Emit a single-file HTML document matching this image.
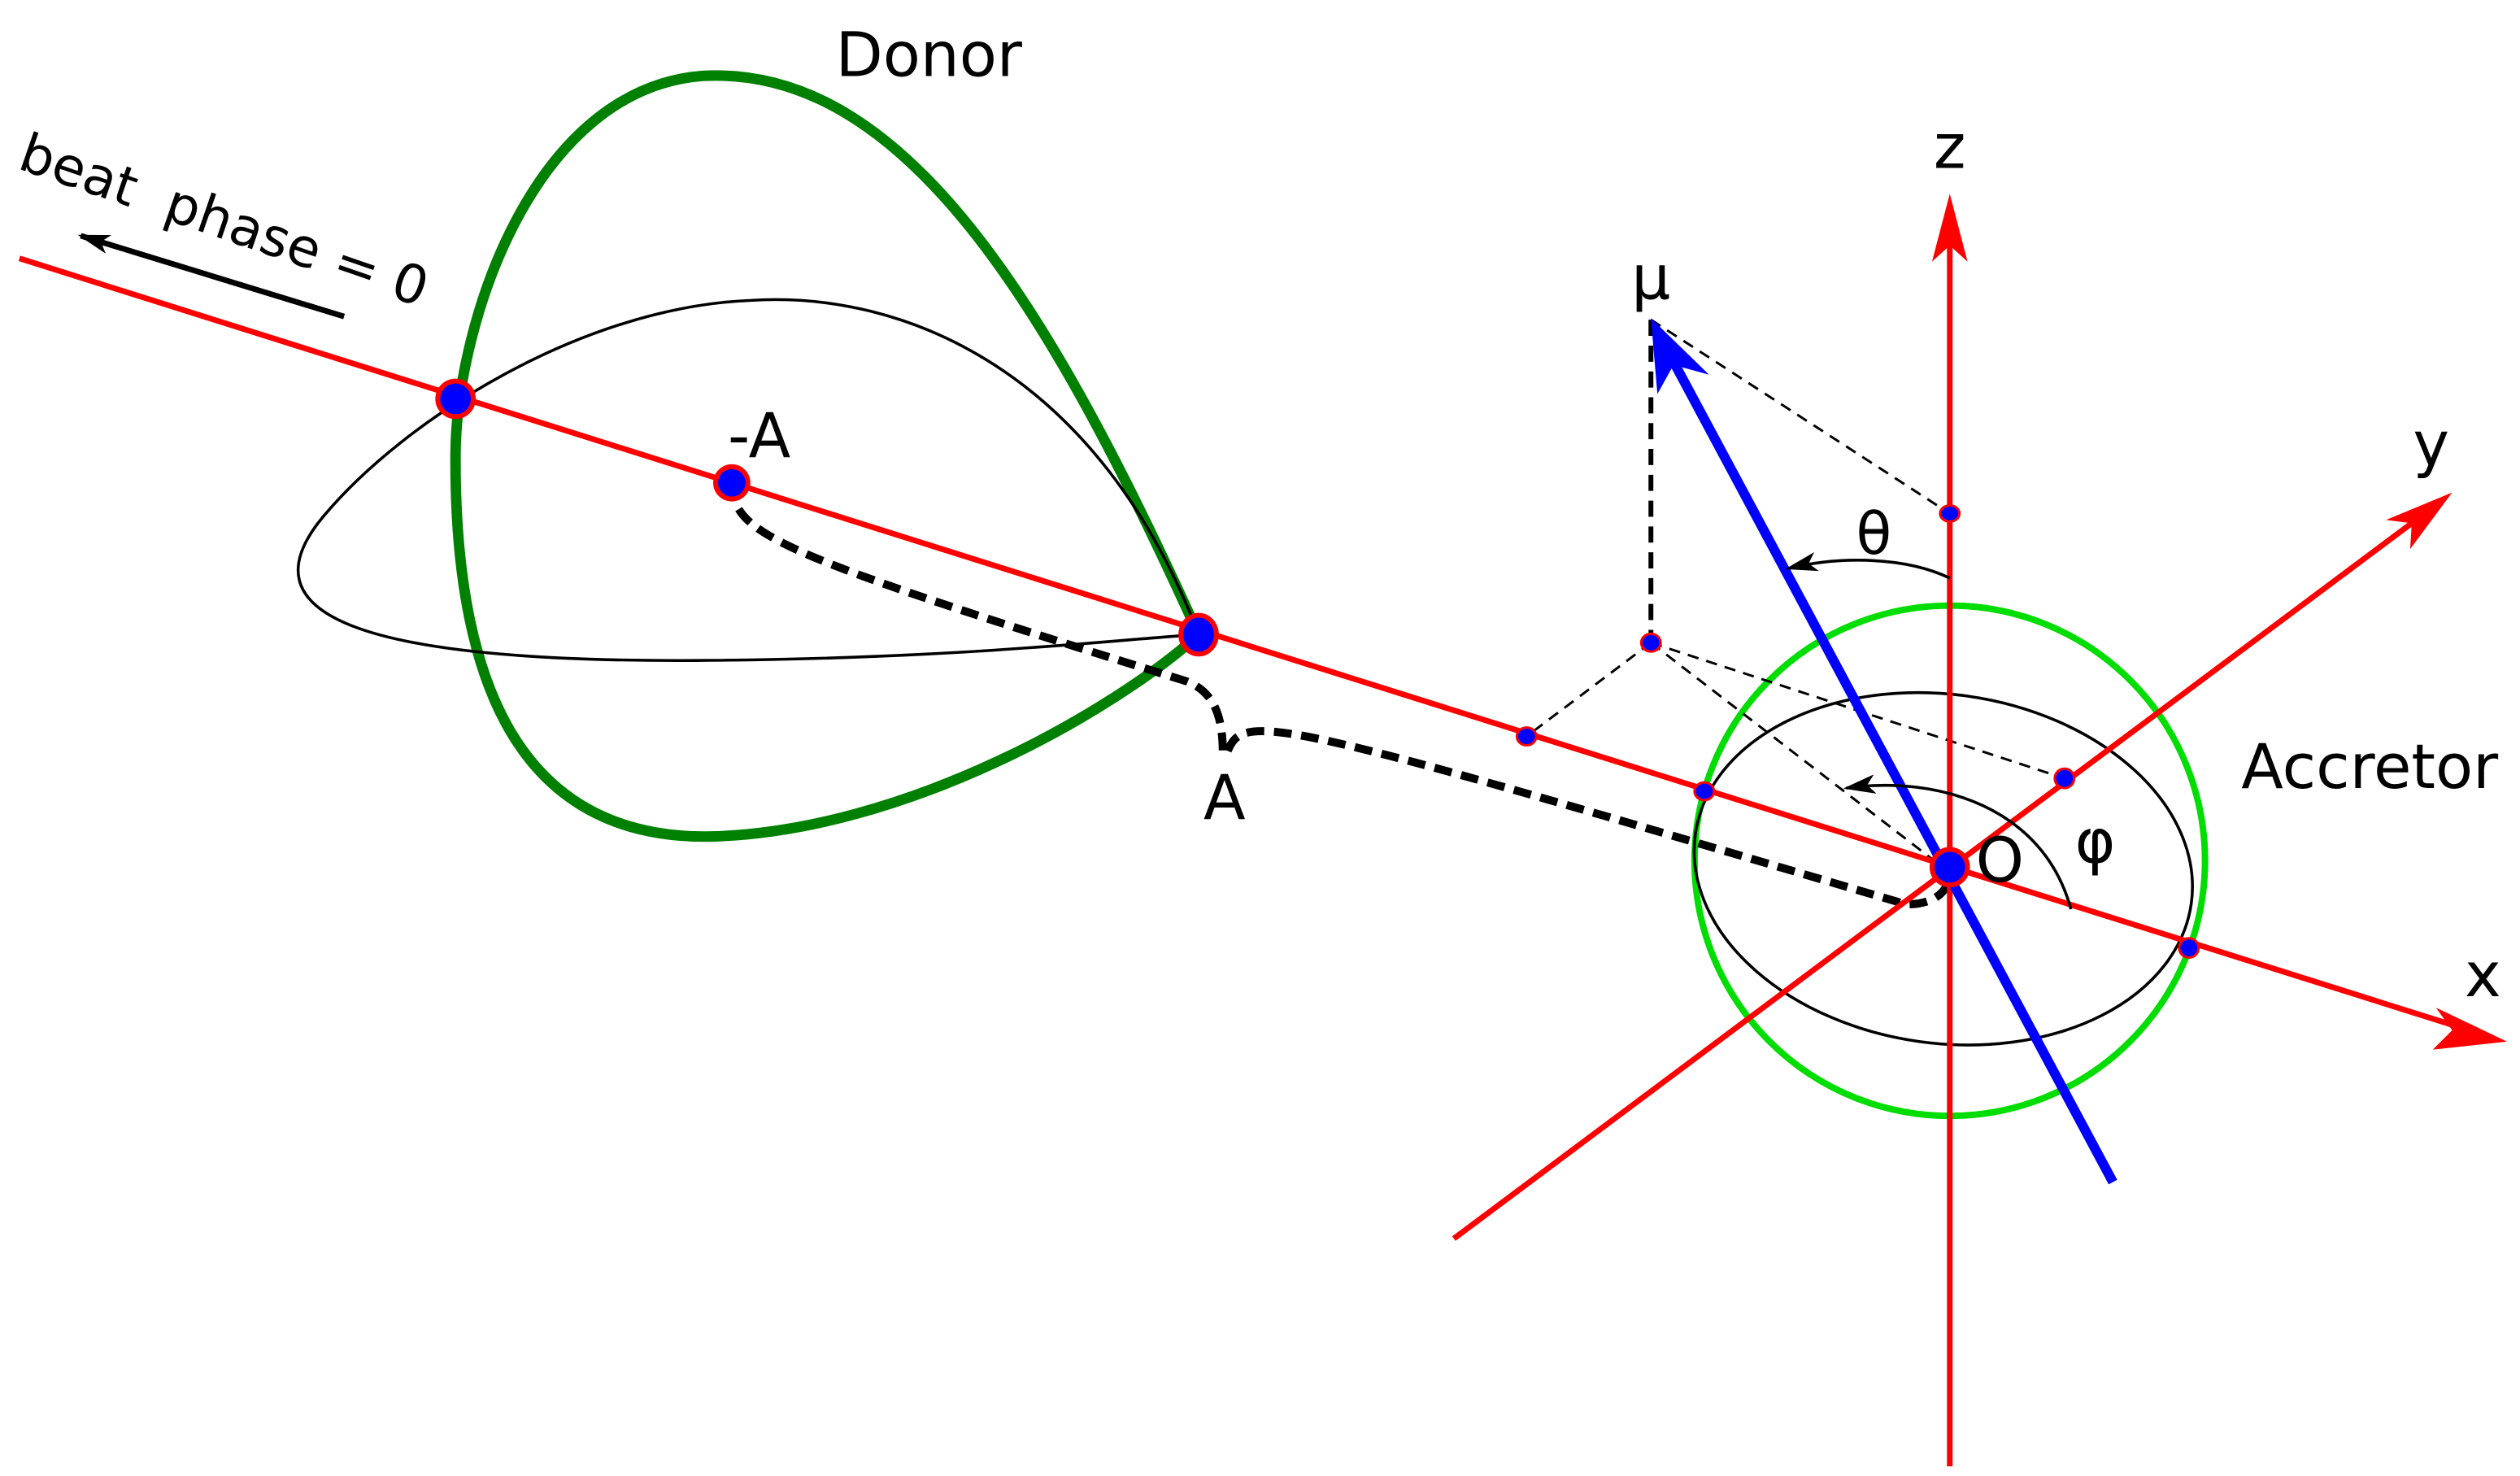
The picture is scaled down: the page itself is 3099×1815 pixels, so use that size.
<!DOCTYPE html>
<html><head><meta charset="utf-8"><style>html,body{margin:0;padding:0;background:#fff}svg{display:block}</style></head>
<body>
<svg width="3099" height="1815" viewBox="0 0 1560 914" preserveAspectRatio="none" xmlns="http://www.w3.org/2000/svg" font-family="DejaVu Sans, Liberation Sans, sans-serif">
<defs>
<marker id="ar" viewBox="0 0 20 12" refX="18" refY="6" markerWidth="20" markerHeight="12" markerUnits="userSpaceOnUse" orient="auto"><path d="M0,0 L20,6 L0,12 L5,6 Z" fill="#000"/></marker>
</defs>
<path d="M742,393 C650,190 560,40 435,47 C330,55 283,200 282,280 C281,420 320,520 440,518 C560,515 690,440 742,393 Z" fill="none" stroke="#008000" stroke-width="6.5"/>
<path d="M742,393 C680,230 560,180 465,186 C360,190 250,260 200,320 C150,380 220,410 430,409 C600,408 700,395 742,393" fill="none" stroke="#000" stroke-width="1.8"/>
<circle cx="1207" cy="533" r="158" fill="none" stroke="#00dd00" stroke-width="4"/>
<ellipse cx="1203" cy="538" rx="155" ry="108" transform="rotate(8 1203 538)" fill="none" stroke="#000" stroke-width="1.8"/>
<g stroke="#000" stroke-width="1.5" stroke-dasharray="7,5" fill="none">
<line x1="1022" y1="198" x2="1207" y2="318"/>
<line x1="1022" y1="398" x2="945" y2="456"/>
<line x1="1022" y1="398" x2="1278" y2="482"/>
<line x1="1022" y1="398" x2="1200" y2="535"/>
</g>
<line x1="1022" y1="198" x2="1022" y2="398" stroke="#000" stroke-width="3" stroke-dasharray="10,6"/>
<path d="M453,299 C455,330 470,340 735,422 C755,430 757,450 757,468 M760,465 C770,440 790,445 1180,560 C1200,560 1207,550 1207,540" fill="none" stroke="#000" stroke-width="5" stroke-dasharray="11,6"/>
<g stroke="#ff0000" stroke-width="3.5" fill="none">
<line x1="12" y1="160" x2="1535" y2="640"/>
<line x1="1207" y1="908" x2="1207" y2="135"/>
<line x1="900" y1="767" x2="1505" y2="315"/>
</g>
<path d="M1552,645 L1508,624 L1518,638 L1506,650 Z" fill="#ff0000"/>
<path d="M1207,120 L1196,162 L1207,152 L1218,162 Z" fill="#ff0000"/>
<path d="M1518,305 L1477,322 L1493,324 L1492,340 Z" fill="#ff0000"/>
<line x1="1308" y1="732" x2="1036" y2="224" stroke="#0000ff" stroke-width="6"/>
<path d="M1022,197 L1026,244 L1036,226 L1058,232 Z" fill="#0000ff"/>
<path d="M1207,358 C1180,345 1140,344 1107,352" fill="none" stroke="#000" stroke-width="1.8" marker-end="url(#ar)"/>
<path d="M1282,563 C1265,500 1200,480 1143,488" fill="none" stroke="#000" stroke-width="1.8" marker-end="url(#ar)"/>
<g fill="#0000ff" stroke="#ff0000">
<ellipse cx="282" cy="247" rx="11" ry="11" stroke-width="3"/>
<ellipse cx="453" cy="299" rx="10" ry="10" stroke-width="3"/>
<ellipse cx="742" cy="393" rx="11" ry="12" stroke-width="3"/>
<ellipse cx="1207" cy="537" rx="11" ry="11" stroke-width="3"/>
<ellipse cx="945" cy="456" rx="6" ry="5.5" stroke-width="1.5"/>
<ellipse cx="1055" cy="490" rx="6" ry="5.5" stroke-width="1.5"/>
<ellipse cx="1278" cy="482" rx="6" ry="6" stroke-width="1.5"/>
<ellipse cx="1355" cy="587" rx="6" ry="6" stroke-width="1.5"/>
<ellipse cx="1207" cy="318" rx="6" ry="5" stroke-width="1.5"/>
<ellipse cx="1022" cy="398" rx="6" ry="5.5" stroke-width="1.5"/>
</g>
<line x1="213" y1="196" x2="50" y2="146" stroke="#000" stroke-width="3.5" marker-end="url(#ar)"/>
<g fill="#000" font-size="38" font-style="normal">
<text x="575" y="47" text-anchor="middle">Donor</text>
<text x="10" y="104" font-size="33" transform="rotate(19 10 104)" xml:space="preserve">beat  phase = 0</text>
<text x="470" y="283" text-anchor="middle">-A</text>
<text x="758" y="507" text-anchor="middle">A</text>
<text x="1022" y="185" text-anchor="middle">μ</text>
<text x="1207" y="104" text-anchor="middle">z</text>
<text x="1160" y="343" text-anchor="middle" font-size="36">θ</text>
<text x="1505" y="288" text-anchor="middle">y</text>
<text x="1467" y="488" text-anchor="middle">Accretor</text>
<text x="1238" y="546" text-anchor="middle">O</text>
<text x="1297" y="534" text-anchor="middle">φ</text>
<text x="1537" y="617" text-anchor="middle">x</text>
</g>
</svg>
</body></html>
